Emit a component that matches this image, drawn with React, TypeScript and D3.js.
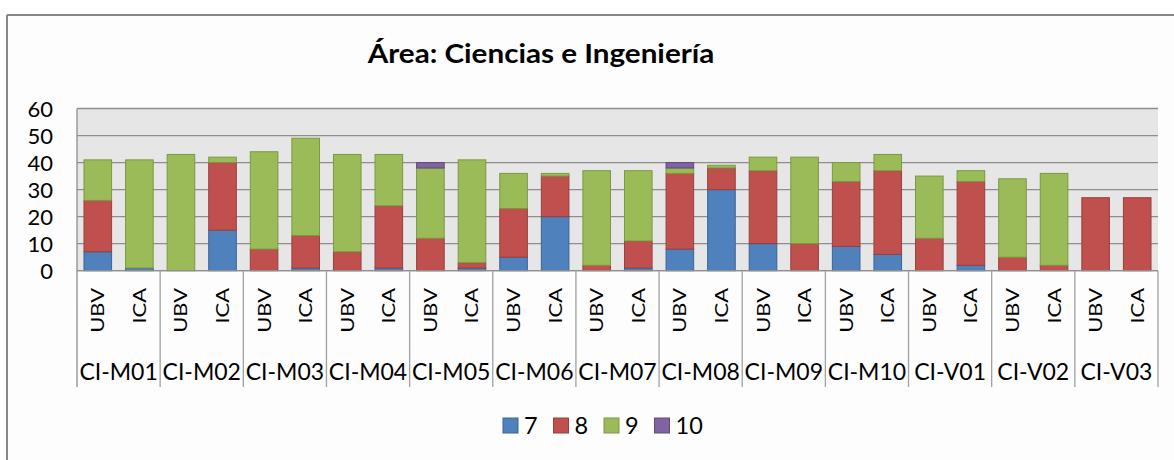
import React from "react";
import * as d3 from "d3";

const groups = [
  "CI-M01", "CI-M02", "CI-M03", "CI-M04", "CI-M05", "CI-M06", "CI-M07",
  "CI-M08", "CI-M09", "CI-M10", "CI-V01", "CI-V02", "CI-V03",
];
const subLabels = ["UBV", "ICA"];
const seriesKeys = ["7", "8", "9", "10"];
const yTicks = [0, 10, 20, 30, 40, 50, 60];

// one value per bar: UBV, ICA for each group in order
const s7 = [7, 1, 0, 15, 0, 1, 0, 1, 0, 1, 5, 20, 0, 1, 8, 30, 10, 0, 9, 6, 0, 2, 0, 0, 0, 0];
const s8 = [19, 0, 0, 25, 8, 12, 7, 23, 12, 2, 18, 15, 2, 10, 28, 8, 27, 10, 24, 31, 12, 31, 5, 2, 27, 27];
const s9 = [15, 40, 43, 2, 36, 36, 36, 19, 26, 38, 13, 1, 35, 26, 2, 1, 5, 32, 7, 6, 23, 4, 29, 34, 0, 0];
const s10 = [0, 0, 0, 0, 0, 0, 0, 0, 2, 0, 0, 0, 0, 0, 2, 0, 0, 0, 0, 0, 0, 0, 0, 0, 0, 0];

const FILL: Record<string, string> = { "7": "#4F81BD", "8": "#C0504D", "9": "#9BBB59", "10": "#8064A2" };
const EDGE: Record<string, string> = { "7": "#3A6496", "8": "#99403D", "9": "#7A9A40", "10": "#5F4A7C" };

const W = 1174;
const H = 460;
const X0 = 77;
const X1 = 1158;
const Y0 = 270.7;
const Y1 = 108.5;
const FONT = "Lato, 'Open Sans', sans-serif";

const App = () => {
  const rows = s7.map((_, i) => ({
    idx: i,
    group: groups[Math.floor(i / 2)],
    sub: subLabels[i % 2],
    "7": s7[i],
    "8": s8[i],
    "9": s9[i],
    "10": s10[i],
  }));

  const x = d3
    .scaleBand<number>()
    .domain(rows.map(r => r.idx))
    .range([X0, X1])
    .paddingInner(0.336)
    .paddingOuter(0.168);
  const gx = d3.scaleBand<string>().domain(groups).range([X0, X1]);
  const y = d3.scaleLinear().domain([0, 60]).range([Y0, Y1]);

  const stacked = d3.stack<any>().keys(seriesKeys)(rows);

  return (
    <svg
      width={W}
      height={H}
      style={{ position: "absolute", left: 0, top: 0, fontFamily: FONT }}
    >
      <rect x={0} y={0} width={W} height={H} fill="#ffffff" />
      <rect x={7} y={15} width={W - 7} height={H - 15} fill="#fdfdfd" />
      <line x1={7} x2={W} y1={15} y2={15} stroke="#878787" strokeWidth={2} />
      <line x1={7} x2={7} y1={15} y2={H} stroke="#878787" strokeWidth={2} />

      <text
        transform="translate(541,63) scale(1.14,1)"
        textAnchor="middle"
        fontSize={26}
        fontWeight="bold"
        fill="#000"
      >
        Área: Ciencias e Ingeniería
      </text>

      {/* plot area */}
      <rect x={X0} y={Y1} width={X1 - X0} height={Y0 - Y1} fill="#e6e6e6" />
      {yTicks.map(t => (
        <g key={t}>
          <line x1={X0} x2={X1} y1={y(t)} y2={y(t)} stroke="#8e8e8e" strokeWidth={1.3} />
          <text x={53} y={y(t) + 8} textAnchor="end" fontSize={22} fill="#000">
            {t}
          </text>
        </g>
      ))}

      {stacked.map(layer => (
        <g key={layer.key}>
          {layer.map((d, i) =>
            d[1] - d[0] > 0 ? (
              <rect
                key={i}
                x={x(i)}
                y={y(d[1])}
                width={x.bandwidth()}
                height={y(d[0]) - y(d[1])}
                fill={FILL[layer.key]}
                stroke={EDGE[layer.key]}
                strokeWidth={1}
              />
            ) : null
          )}
        </g>
      ))}

      {/* axes */}
      <line x1={X0} x2={X0} y1={Y1} y2={387} stroke="#8e8e8e" strokeWidth={1.3} />
      <line x1={X0} x2={X1} y1={Y0} y2={Y0} stroke="#8e8e8e" strokeWidth={1.3} />
      {groups.map(g => (
        <line
          key={g}
          x1={(gx(g) ?? 0) + gx.bandwidth()}
          x2={(gx(g) ?? 0) + gx.bandwidth()}
          y1={Y0}
          y2={387}
          stroke="#a0a0a0"
          strokeWidth={1.3}
        />
      ))}

      {rows.map(r => {
        const cx = (x(r.idx) ?? 0) + x.bandwidth() / 2;
        return (
          <text
            key={r.idx}
            transform={`translate(${cx + 6.5},288) rotate(-90) scale(1.25,1)`}
            textAnchor="end"
            fontSize={17.5}
            fill="#000"
          >
            {r.sub}
          </text>
        );
      })}

      {groups.map(g => (
        <text
          key={g}
          x={(gx(g) ?? 0) + gx.bandwidth() / 2}
          y={380}
          textAnchor="middle"
          fontSize={23}
          fill="#000"
        >
          {g}
        </text>
      ))}

      {/* legend */}
      {seriesKeys.map((k, i) => (
        <g key={k} transform={`translate(${503 + i * 50.5},418)`}>
          <rect x={0} y={0} width={15} height={15} fill={FILL[k]} stroke={EDGE[k]} strokeWidth={1} />
          <text x={21} y={16} fontSize={23.5} fill="#000">
            {k}
          </text>
        </g>
      ))}
    </svg>
  );
};

export default App;
